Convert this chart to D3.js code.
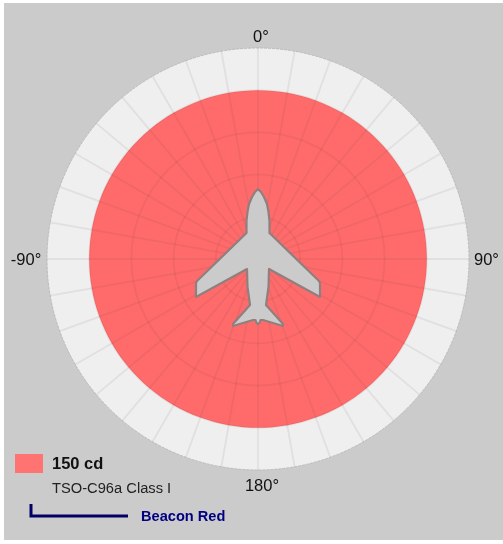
<!DOCTYPE html>
<html>
<head>
<meta charset="utf-8">
<script src="https://cdnjs.cloudflare.com/ajax/libs/d3/7.8.5/d3.min.js"></script>
<style>
html, body { margin: 0; padding: 0; background: #fff; }
svg { display: block; filter: blur(0.35px); }
text { font-family: "Liberation Sans", Arial, sans-serif; }
</style>
</head>
<body>
<div id="chart"></div>
<script>
/* polar intensity plot of a beacon light */
const angles = d3.range(-180, 180, 10);
const intensity = [150, 150, 150, 150, 150, 150, 150, 150, 150, 150, 150, 150,
    150, 150, 150, 150, 150, 150, 150, 150, 150, 150, 150, 150,
    150, 150, 150, 150, 150, 150, 150, 150, 150, 150, 150, 150];
const ringTicks = [37.5, 75, 112.5, 150];
const scaleMax = 187.5;
const angleLabels = [0, 90, 180, -90];
const legendValue = '150 cd';
const legendClass = 'TSO-C96a Class I';
const legendName = 'Beacon Red';
// half of the plane outline, nose to tail, in px from the centre
const planeHalf = [[0, -70], [3, -67], [6, -62], [9, -55], [10.5, -47], [11.5, -38], [11.5, -26],
    [61, 22], [62, 24], [62, 38], [11, 10], [10.5, 28], [8, 46], [25, 65], [25, 67], [5, 61], [2.5, 61], [1.5, 64], [0, 65]];

const width = 503, height = 544;
const cx = 258, cy = 259;

const svg = d3.select('#chart').append('svg').attr('width', width).attr('height', height);
svg.append('rect').attr('x', 4).attr('y', 3).attr('width', width - 4).attr('height', height - 7).attr('fill', '#cbcbcb');

const r = d3.scaleLinear().domain([0, scaleMax]).range([0, 211]);
const a = d3.scaleLinear().domain([0, 360]).range([0, 2 * Math.PI]);
const g = svg.append('g').attr('transform', `translate(${cx},${cy})`);

g.append('circle').attr('r', r(scaleMax)).attr('fill', '#efefef')
    .attr('stroke', '#b4b4b4').attr('stroke-width', 0.8).attr('stroke-dasharray', '3 1');

const radial = d3.lineRadial().angle((d, i) => a(angles[i])).radius(d => r(d)).curve(d3.curveCatmullRomClosed);
g.append('path').datum(intensity).attr('fill', '#ff6b6b').attr('d', radial);

// grid on top of the red fill
g.selectAll('.spoke').data(angles).enter().append('line')
    .attr('x1', 0).attr('y1', 0)
    .attr('x2', d => r(scaleMax) * Math.sin(a(d)))
    .attr('y2', d => -r(scaleMax) * Math.cos(a(d)))
    .attr('stroke', 'rgba(90,70,70,0.09)').attr('stroke-width', 1.8);
g.selectAll('.ring').data(ringTicks).enter().append('circle')
    .attr('r', d => r(d)).attr('fill', 'none')
    .attr('stroke', 'rgba(110,60,60,0.09)').attr('stroke-width', 1.8);

const planeLine = d3.line().curve(d3.curveLinearClosed);
const planePts = planeHalf.concat(planeHalf.slice(1, -1).reverse().map(p => [-p[0], p[1]]));
g.append('path').attr('d', planeLine(planePts)).attr('fill', '#cbcbcb')
    .attr('stroke', '#907f7f').attr('stroke-width', 2.2).attr('stroke-linejoin', 'round');

g.selectAll('.angle').data(angleLabels).enter().append('text')
    .attr('x', d => d === 90 ? 228.5 : d === -90 ? -232 : d === 180 ? 4 : 3)
    .attr('y', d => d === 0 ? -217 : d === 180 ? 232 : 6)
    .attr('text-anchor', 'middle')
    .attr('font-size', 16.5).attr('fill', '#111')
    .text(d => d + '°');

// legend
svg.append('rect').attr('x', 15).attr('y', 454).attr('width', 28).attr('height', 19).attr('fill', '#ff7373');
svg.append('text').attr('x', 52).attr('y', 469).attr('font-size', 16.5).attr('font-weight', 'bold').attr('fill', '#111').text(legendValue);
svg.append('text').attr('x', 52).attr('y', 493).attr('font-size', 14.7).attr('fill', '#222').text(legendClass);
svg.append('path').attr('d', d3.line()([[31, 504], [31, 516], [128, 516]]))
    .attr('fill', 'none').attr('stroke', '#000066').attr('stroke-width', 3);
svg.append('text').attr('x', 141).attr('y', 521).attr('font-size', 14.6).attr('font-weight', 'bold').attr('fill', '#000080').text(legendName);
</script>
</body>
</html>
